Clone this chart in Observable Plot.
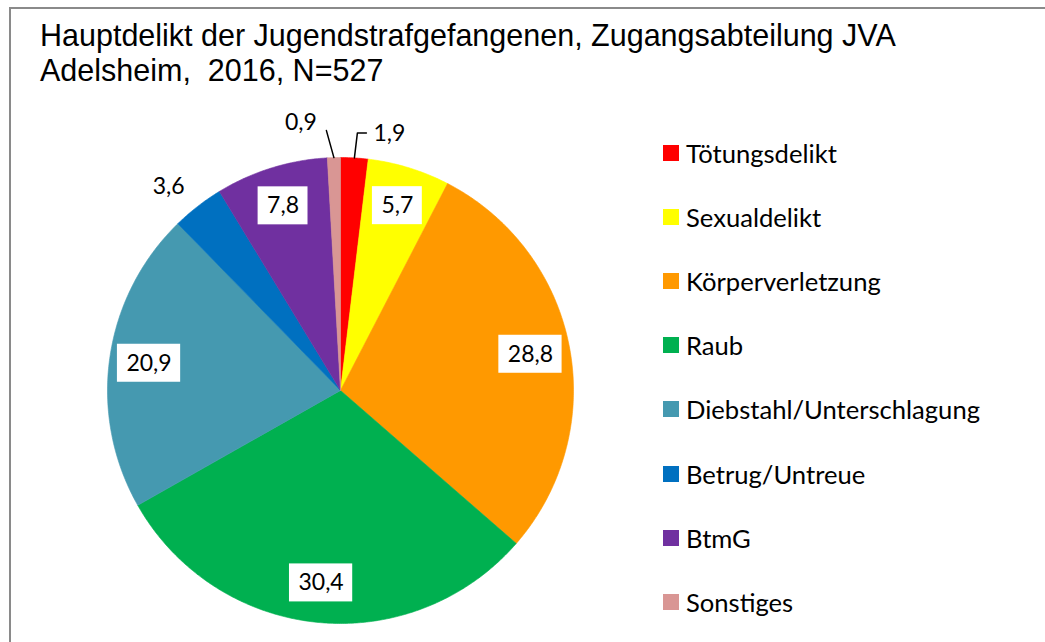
<!DOCTYPE html>
<html>
<head>
<meta charset="utf-8">
<script src="https://cdn.jsdelivr.net/npm/d3@7"></script>
<script src="https://cdn.jsdelivr.net/npm/@observablehq/plot@0.6"></script>
<style>
  html, body { margin: 0; padding: 0; background: #fff; }
  #chart { position: relative; width: 1045px; height: 642px; overflow: hidden; background: #fff; }
  #frame { position: absolute; left: 9px; top: 7px; width: 1200px; height: 800px;
           border-left: 2px solid #8a8a8a; border-top: 2px solid #8a8a8a; }
  #title { position: absolute; left: 40px; top: 18px; font-family: "Liberation Sans", Arial, sans-serif;
           font-size: 30.5px; line-height: 34.5px; color: #000; white-space: pre; }
  #plot { position: absolute; left: 0; top: 0; }
  #legend { position: absolute; left: 0; top: 0; width: 1045px; height: 642px; pointer-events: none; }
  .lg-row { position: absolute; left: 663px; height: 30px; display: flex; align-items: center;
            font-family: Lato, "Open Sans", sans-serif; font-size: 25.6px; color: #000; white-space: nowrap; }
  .lg-sw { width: 16px; height: 16px; margin-right: 7px; flex: none; }
</style>
</head>
<body>
<div id="chart">
  <div id="frame"></div>
  <div id="plot"></div>
  <div id="title"></div>
  <div id="legend"></div>
</div>
<script>
// ---- data ----
const titleLines = ["Hauptdelikt der Jugendstrafgefangenen, Zugangsabteilung JVA", "Adelsheim,  2016, N=527"];
const categories = ["Tötungsdelikt", "Sexualdelikt", "Körperverletzung", "Raub",
                    "Diebstahl/Unterschlagung", "Betrug/Untreue", "BtmG", "Sonstiges"];
const percents = [1.9, 5.7, 28.8, 30.4, 20.9, 3.6, 7.8, 0.9];
const colors = ["#ff0000", "#ffff00", "#ff9900", "#00b050", "#4599b0", "#0070c0", "#7030a0", "#d99694"];

// ---- layout (pixels) ----
const W = 1045, H = 642;
const CX = 340, CY = 390, R = 233;
const INSIDE_R = 0.83;
const LABEL_FS = 23;
const LABEL_FONT = "Lato";
const BOX_PAD = 9, BOX_H = 38;
// outside labels: offsets in px from the slice's edge point, plus optional leader elbows
const labelPlacement = {
  "Tötungsdelikt": { dx: 35, dy: -24, leader: [[3, -25], [12, -25]] },
  "Sonstiges": { dx: -33, dy: -35, leader: [[-7.5, -27]] },
  "Betrug/Untreue": { dx: -29, dy: -20 }
};
const LEG_Y0 = 153, LEG_DY = 64.1;

// ---- title & legend ----
document.getElementById("title").textContent = titleLines.join("\n");
const legend = document.getElementById("legend");
categories.forEach((c, i) => {
  const row = document.createElement("div");
  row.className = "lg-row";
  row.style.top = (LEG_Y0 + i * LEG_DY - 15) + "px";
  const sw = document.createElement("div");
  sw.className = "lg-sw";
  sw.style.background = colors[i];
  const tx = document.createElement("span");
  tx.textContent = c;
  row.appendChild(sw); row.appendChild(tx);
  legend.appendChild(row);
});

// ---- geometry ----
const arcs = d3.pie().sort(null).value(d => d)(percents);
const slices = arcs.map((p, i) => ({
  cat: categories[i], value: percents[i], a0: p.startAngle, a1: p.endAngle, mid: (p.startAngle + p.endAngle) / 2
}));
const polyPts = [];
for (const s of slices) {
  const n = Math.max(2, Math.ceil((s.a1 - s.a0) / (Math.PI / 360)));
  polyPts.push({ cat: s.cat, x: 0, y: 0 });
  for (let j = 0; j <= n; j++) {
    const a = s.a0 + (s.a1 - s.a0) * j / n;
    polyPts.push({ cat: s.cat, x: Math.sin(a), y: Math.cos(a) });
  }
  polyPts.push({ cat: s.cat, x: 0, y: 0 });
}

const fmt = d3.formatLocale({ decimal: ",", thousands: ".", grouping: [3], currency: ["", " €"] }).format(".1f");
const ctx = document.createElement("canvas").getContext("2d");
ctx.font = `${LABEL_FS}px ${LABEL_FONT}`;

const labels = [], boxes = [], leaders = [];
for (const s of slices) {
  const text = fmt(s.value);
  const pl = labelPlacement[s.cat];
  const ex = Math.sin(s.mid), ey = Math.cos(s.mid);
  if (pl) {
    labels.push({ text, x: ex + pl.dx / R, y: ey - pl.dy / R });
    if (pl.leader) {
      leaders.push({ cat: s.cat, x: ex, y: ey });
      for (const [lx, ly] of pl.leader) leaders.push({ cat: s.cat, x: ex + lx / R, y: ey - ly / R });
    }
  } else {
    const x = INSIDE_R * ex, y = INSIDE_R * ey;
    labels.push({ text, x, y });
    const w = ctx.measureText(text).width + 2 * BOX_PAD;
    boxes.push({ x1: x - w / 2 / R, x2: x + w / 2 / R, y1: y - BOX_H / 2 / R, y2: y + BOX_H / 2 / R });
  }
}

const plot = Plot.plot({
  width: W, height: H, margin: 0,
  x: { domain: [-CX / R, (W - CX) / R], axis: null },
  y: { domain: [-(H - CY) / R, CY / R], axis: null },
  color: { domain: categories, range: colors },
  style: { background: "transparent", overflow: "visible" },
  marks: [
    Plot.line(polyPts, { x: "x", y: "y", z: "cat", fill: "cat", stroke: "cat", strokeWidth: 0.6, curve: "linear" }),
    Plot.line(leaders, { x: "x", y: "y", z: "cat", stroke: "#000", strokeWidth: 1.5 }),
    Plot.rect(boxes, { x1: "x1", x2: "x2", y1: "y1", y2: "y2", fill: "#fff" }),
    Plot.text(labels, { x: "x", y: "y", text: "text", fontSize: LABEL_FS, fontFamily: LABEL_FONT, fill: "#000" })
  ]
});
document.getElementById("plot").appendChild(plot);
</script>
</body>
</html>
